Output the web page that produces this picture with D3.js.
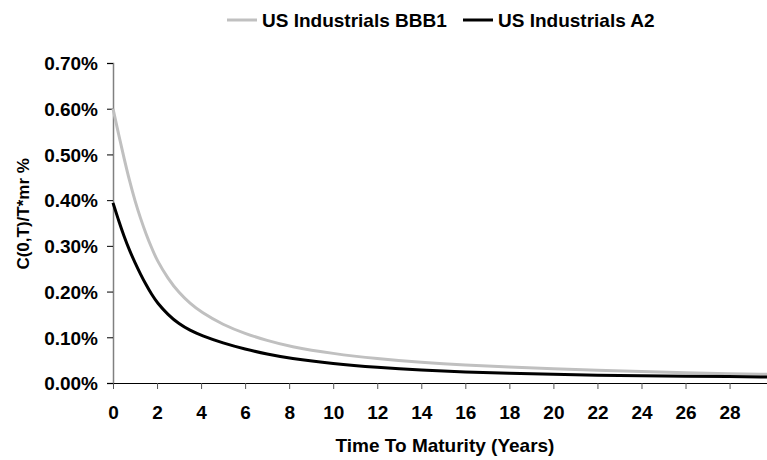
<!DOCTYPE html>
<html lang="en">
<head>
  <meta charset="UTF-8" />
  <title>C(0,T)/T*mr %</title>
  <script src="https://d3js.org/d3.v7.min.js"></script>
  <style>
    body {
      margin: 0;
      background: #fff;
      font-family: "Liberation Sans", Arial, Helvetica, sans-serif;
    }
    svg text {
      font-weight: bold;
      fill: #000;
    }
    .tick text {
      font-size: 19px;
    }
  </style>
</head>
<body>
<svg id="chart" width="767" height="460"></svg>
<script>
// maturities in years
const maturities = [0, 0.25, 0.5, 0.75, 1, 1.25, 1.5, 1.75, 2, 2.5, 3, 3.5, 4, 5, 6, 7, 8, 10, 12, 14, 16, 18, 20, 22, 24, 26, 28, 29.7];
// values in percent
const bbb1 = [0.600, 0.545, 0.492, 0.442, 0.398, 0.360, 0.326, 0.296, 0.268, 0.228, 0.197, 0.174, 0.155, 0.127, 0.108, 0.093, 0.080, 0.064, 0.053, 0.045, 0.039, 0.035, 0.031, 0.028, 0.025, 0.022, 0.020, 0.019];
const a2 = [0.394, 0.356, 0.321, 0.290, 0.263, 0.238, 0.215, 0.194, 0.176, 0.149, 0.129, 0.115, 0.104, 0.087, 0.074, 0.063, 0.054, 0.042, 0.034, 0.028, 0.024, 0.021, 0.019, 0.017, 0.016, 0.015, 0.014, 0.013];
const xTicks = d3.range(0, 29, 2);
const yTicks = [0, 0.1, 0.2, 0.3, 0.4, 0.5, 0.6, 0.7];

const series = [
  { name: "US Industrials BBB1", values: bbb1, color: "#c0c0c0" },
  { name: "US Industrials A2", values: a2, color: "#000000" }
];

const svg = d3.select("#chart");
const margin = { top: 63, right: 0, bottom: 77, left: 113 };
const width = +svg.attr("width"), height = +svg.attr("height");

const x = d3.scaleLinear().domain([0, 29.7]).range([margin.left, width - margin.right]);
const y = d3.scaleLinear().domain([0, 0.7]).range([height - margin.bottom, margin.top]);

// y axis
const yAxis = svg.append("g")
  .attr("transform", `translate(${margin.left},0)`)
  .call(d3.axisLeft(y).tickValues(yTicks).tickSize(6).tickPadding(9)
    .tickFormat(d => d.toFixed(2) + "%"));
yAxis.select(".domain").attr("stroke", "#808080").attr("stroke-width", 1.5);
yAxis.selectAll(".tick line").attr("stroke", "#000");
yAxis.selectAll(".tick text").attr("dy", "0.36em");

// x axis
const xAxis = svg.append("g")
  .attr("transform", `translate(0,${y(0)})`)
  .call(d3.axisBottom(x).tickValues(xTicks).tickSize(6).tickPadding(17).tickSizeOuter(0));
xAxis.select(".domain").attr("stroke", "#000");
xAxis.selectAll(".tick line").attr("stroke", "#555");

// lines
const line = d3.line()
  .x((d, i) => x(maturities[i]))
  .y(d => y(d))
  .curve(d3.curveBasis);

series.forEach(s => {
  svg.append("path")
    .datum(s.values)
    .attr("fill", "none")
    .attr("stroke", s.color)
    .attr("stroke-width", 3)
    .attr("d", line);
});

// legend
const legendPos = [227, 463];
series.forEach((s, i) => {
  const g = svg.append("g").attr("transform", `translate(${legendPos[i]},20)`);
  g.append("line").attr("x1", 0).attr("x2", 30).attr("y1", 0).attr("y2", 0)
    .attr("stroke", s.color).attr("stroke-width", 3);
  g.append("text").attr("x", 35).attr("y", 7).style("font-size", "19px").text(s.name);
});

// axis titles
svg.append("text")
  .attr("transform", `translate(29,${y(0.37)}) rotate(-90)`)
  .attr("text-anchor", "middle")
  .style("font-size", "17px")
  .text("C(0,T)/T*mr %");

svg.append("text")
  .attr("x", 445)
  .attr("y", 452)
  .attr("text-anchor", "middle")
  .style("font-size", "19px")
  .text("Time To Maturity (Years)");
</script>
</body>
</html>
